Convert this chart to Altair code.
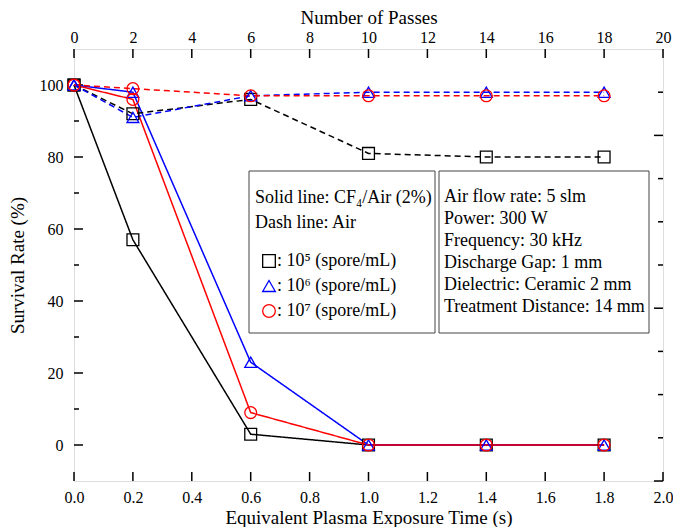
import altair as alt
import pandas as pd

# ---- data ----
times = [0.0, 0.2, 0.6, 1.0, 1.4, 1.8]
cf4_1e5 = [100, 57, 3, 0, 0, 0]
cf4_1e6 = [100, 98, 23, 0, 0, 0]
cf4_1e7 = [100, 96, 9, 0, 0, 0]
air_1e5 = [100, 92, 96, 81, 80, 80]
air_1e6 = [100, 91, 97, 98, 98, 98]
air_1e7 = [100, 99, 97, 97, 97, 97]

concs = ["1e5", "1e6", "1e7"]
conc_labels = [": 10\u2075 (spore/mL)", ": 10\u2076 (spore/mL)", ": 10\u2077 (spore/mL)"]
colors = ["#000000", "#0000ff", "#ff0000"]
shapes = ["square", "triangle-up", "circle"]

x_ticks = [0.0, 0.2, 0.4, 0.6, 0.8, 1.0, 1.2, 1.4, 1.6, 1.8, 2.0]
y_ticks = [0, 20, 40, 60, 80, 100]
y_minor = [10, 30, 50, 70, 90]
passes = [0, 2, 4, 6, 8, 10, 12, 14, 16, 18, 20]
right_major = [0, 1, 2]
right_minor = [0.25, 0.5, 0.75, 1.25, 1.5, 1.75, 2.25]

box1_lines = ["Solid line: CF\u2084/Air (2%)", "Dash line: Air"]
box2_lines = ["Air flow rate: 5 slm", "Power: 300 W", "Frequency: 30 kHz",
              "Discharge Gap: 1 mm", "Dielectric: Ceramic 2 mm",
              "Treatment Distance: 14 mm"]

rows = []
for gas, series in [("CF4", [cf4_1e5, cf4_1e6, cf4_1e7]),
                    ("Air", [air_1e5, air_1e6, air_1e7])]:
    for c, vals in zip(concs, series):
        for t, v in zip(times, vals):
            rows.append(dict(time=t, rate=v, conc=c, gas=gas, series=gas + c))
df = pd.DataFrame(rows)

W, H = 589, 432
FONT = "Liberation Serif"
LBL = 16
TTL = 19

common = dict(ticks=False, domain=False, grid=False, labelFont=FONT, titleFont=FONT,
              labelFontSize=LBL, titleFontSize=TTL, titleFontWeight="normal",
              labelColor="black", titleColor="black", labelFlush=False,
              labelOverlap=False)
x_axis = alt.Axis(values=x_ticks, format=".1f", title="Equivalent Plasma Exposure Time (s)",
                  labelPadding=8, titlePadding=3, **common)
y_axis = alt.Axis(values=y_ticks, format="d", title="Survival Rate (%)",
                  labelPadding=11, titlePadding=12, **common)
xsc = alt.Scale(domain=[0, 2], nice=False)
ysc = alt.Scale(domain=[-10, 110], nice=False)


def X(field="time"):
    return alt.X(f"{field}:Q", scale=xsc, axis=x_axis)


def Y(field="rate"):
    return alt.Y(f"{field}:Q", scale=ysc, axis=y_axis)


color = alt.Color("conc:N", scale=alt.Scale(domain=concs, range=colors), legend=None)
dash = alt.StrokeDash("gas:N", scale=alt.Scale(domain=["CF4", "Air"], range=[[1, 0], [6, 4]]),
                      legend=None)
shape = alt.Shape("conc:N", scale=alt.Scale(domain=concs, range=shapes), legend=None)

lines = alt.Chart(df).mark_line(strokeWidth=1.5).encode(
    x=X(), y=Y(), color=color, strokeDash=dash, detail="series:N")
points = alt.Chart(df).mark_point(filled=False, size=140, strokeWidth=1.3, opacity=1).encode(
    x=X(), y=Y(), color=color, shape=shape)

xt = pd.DataFrame({"time": x_ticks})
yt = pd.DataFrame({"rate": y_ticks})
ym = pd.DataFrame({"rate": y_minor})
tick_style = dict(color="black", strokeWidth=1.5)
bottom_ticks = alt.Chart(xt).mark_rule(**tick_style).encode(
    x=X(), y=alt.value(H), y2=alt.value(H - 9))
top_ticks = alt.Chart(xt).mark_rule(**tick_style).encode(
    x=X(), y=alt.value(0), y2=alt.value(9))
left_ticks = alt.Chart(yt).mark_rule(**tick_style).encode(
    y=Y(), x=alt.value(0), x2=alt.value(9))
left_minor = alt.Chart(ym).mark_rule(**tick_style).encode(
    y=Y(), x=alt.value(0), x2=alt.value(5))

one = pd.DataFrame({"a": [0]})
box_style = dict(fill="white", stroke="#444444", strokeWidth=1)
box1 = alt.Chart(one).mark_rect(**box_style).encode(
    x=alt.value(175), x2=alt.value(361), y=alt.value(122), y2=alt.value(284))
box2 = alt.Chart(one).mark_rect(**box_style).encode(
    x=alt.value(365), x2=alt.value(575), y=alt.value(122), y2=alt.value(284))

txt = dict(font=FONT, fontSize=18, align="left", baseline="middle", color="black")
t_solid = alt.Chart(one).mark_text(**txt).encode(
    x=alt.value(181), y=alt.value(149), text=alt.value(box1_lines[0]))
t_dash = alt.Chart(one).mark_text(**txt).encode(
    x=alt.value(181), y=alt.value(174), text=alt.value(box1_lines[1]))
t_box2 = alt.Chart(one).mark_text(lineHeight=22, **txt).encode(
    x=alt.value(370), y=alt.value(148), text=alt.value(box2_lines))

legend_layers = []
for i, (lab, col, shp) in enumerate(zip(conc_labels, colors, shapes)):
    yy = 212 + i * 25
    legend_layers.append(alt.Chart(one).mark_point(
        filled=False, size=160, strokeWidth=1.3, opacity=1, color=col, shape=shp).encode(
        x=alt.value(195), y=alt.value(yy)))
    legend_layers.append(alt.Chart(one).mark_text(**txt).encode(
        x=alt.value(203), y=alt.value(yy), text=alt.value(lab)))

main = alt.layer(bottom_ticks, top_ticks, left_ticks, left_minor, lines, points,
                 box1, box2, t_solid, t_dash, t_box2, *legend_layers)

# top axis: Number of Passes
top = alt.Chart(pd.DataFrame({"passes": passes})).mark_rule(opacity=0).encode(
    x=alt.X("passes:Q", scale=alt.Scale(domain=[0, 20], nice=False),
            axis=alt.Axis(orient="top", values=passes, title="Number of Passes",
                          labelPadding=4, titlePadding=2, **common)))

# right side ticks (unlabelled)
rsc = alt.Scale(domain=[0, 2.5], nice=False)
right_maj = alt.Chart(pd.DataFrame({"r": right_major})).mark_rule(**tick_style).encode(
    y=alt.Y("r:Q", scale=rsc, axis=None), x=alt.value(W - 9), x2=alt.value(W))
right_min = alt.Chart(pd.DataFrame({"r": right_minor})).mark_rule(**tick_style).encode(
    y=alt.Y("r:Q", scale=rsc, axis=None), x=alt.value(W - 5), x2=alt.value(W))
right = alt.layer(right_maj, right_min)

chart = alt.layer(main, top, right).resolve_scale(
    x="independent", y="independent").properties(
    width=W, height=H, padding=0).configure_view(
    stroke="black", strokeWidth=1.8).configure(background="white")

chart.save("out.html", embed_options={"renderer": "svg", "actions": False})
